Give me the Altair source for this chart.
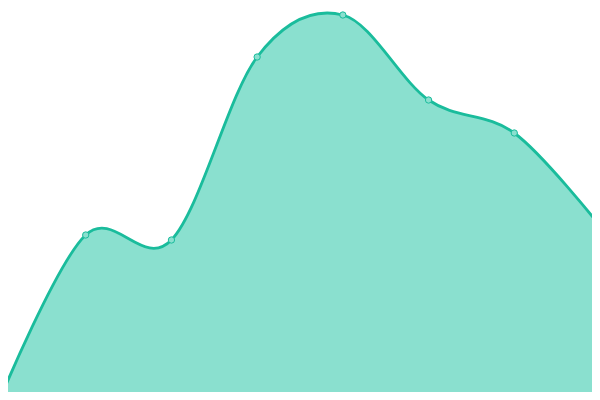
import altair as alt
import pandas as pd

idx = [0, 1, 2, 3, 4, 5, 6, 7]
values = [1, 165, 160, 343, 385, 300, 267, 174]

df = pd.DataFrame({"i": idx, "v": values})

# Scales chosen so the visible window (inside the page margin) lines up with the
# reference, where the plot area fills the whole 600x400 frame.
unit = 600 / 7
x = alt.X("i:Q", axis=None,
          scale=alt.Scale(domain=[8 / unit, 592 / unit], nice=False, zero=False))
y = alt.Y("v:Q", axis=None,
          scale=alt.Scale(domain=[8, 392], nice=False, zero=False))

base = alt.Chart(df).encode(x=x, y=y)

area = base.mark_area(
    interpolate="cardinal",
    fill="#8ae0cf",
    fillOpacity=1,
    line={"color": "#1abc9c", "strokeWidth": 2.8},
    clip=True,
)
pts = base.mark_point(
    shape="circle", size=40, filled=True, fill="#8ae0cf", stroke="#1abc9c",
    strokeWidth=1, opacity=1, clip=True,
)

chart = (area + pts).properties(
    width=584, height=384, padding=0,
    autosize=alt.AutoSizeParams(type="none"),
).configure_view(stroke=None)

chart.save("out.html", embed_options={"renderer": "svg", "actions": False})
